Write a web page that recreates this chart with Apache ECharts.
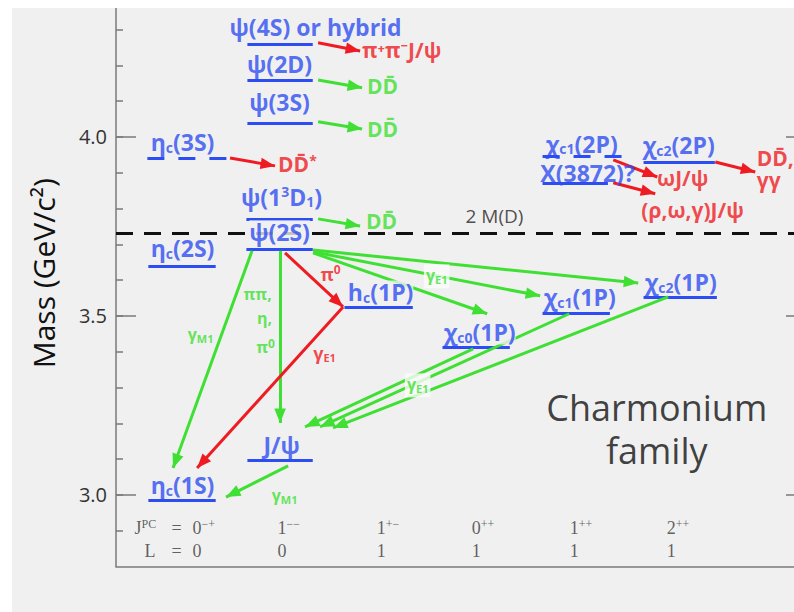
<!DOCTYPE html>
<html><head><meta charset="utf-8">
<script src="https://cdn.jsdelivr.net/npm/echarts@6/dist/echarts.min.js"></script>
<style>
html,body{margin:0;padding:0;background:#ffffff;width:794px;height:612px;overflow:hidden;position:relative}
#c{position:absolute;left:12px;top:8px;width:800px;height:604px;background:#f0f0f0}
</style></head><body><div id="c"></div>
<script>
// ---------------- data ----------------
const massMin = 2.8, massMax = 4.36;
const majorTicks = [3.0, 3.5, 4.0];
const minorTicks = [2.9, 3.0, 3.1, 3.2, 3.3, 3.4, 3.5, 3.6, 3.7, 3.8, 3.9, 4.0, 4.1, 4.2, 4.3];
const colMin = -0.6667, colMax = 6.3;
const twoMD = 3.73;

// energy levels: column-unit span and mass (GeV/c^2)
const levelNames  = ['ηc(1S)','ηc(2S)','ηc(3S)','J/ψ','ψ(2S)','ψ(1³D₁)','ψ(3S)','ψ(2D)','ψ(4S)','hc(1P)','χc0(1P)','χc1(1P)','χc2(1P)','X(3872)','χc1(2P)','χc2(2P)'];
const levelMass   = [2.984, 3.640, 3.941, 3.097, 3.686, 3.771, 4.039, 4.157, 4.260, 3.525, 3.413, 3.508, 3.553, 3.871, 3.947, 3.930];
const levelFrom   = [-0.34, -0.34, -0.35, 0.66, 0.65, 0.65, 0.66, 0.66, 0.66, 1.64, 2.63, 3.64, 4.66, 3.64, 3.64, 4.66];
const levelTo     = [0.34, 0.34, 0.47, 1.32, 1.32, 1.32, 1.32, 1.32, 1.32, 2.33, 3.31, 4.32, 5.40, 4.30, 4.44, 5.38];
const levelDashed = [false,false,true,false,false,false,false,false,false,false,false,false,false,false,true,false];

// transitions / decays: [column, mass] start and arrow tip, colour key
const arrowFrom = [[1.374,4.263],[1.374,4.159],[1.374,4.042],[0.485,3.941],[1.374,3.771],[4.354,3.936],[4.354,3.872],[5.384,3.930],
                   [0.707,3.682],[0.990,3.682],[1.040,3.676],[1.626,3.525],[1.323,3.684],[1.323,3.679],[1.323,3.676],
                   [2.939,3.408],[3.909,3.506],[4.909,3.553],[1.071,3.081]];
const arrowTo   = [[1.798,4.240],[1.818,4.137],[1.818,4.022],[0.939,3.919],[1.798,3.751],[4.798,3.888],[4.778,3.841],[5.788,3.902],
                   [-0.091,3.075],[0.990,3.201],[1.626,3.525],[0.152,3.075],[4.606,3.592],[3.616,3.556],[3.081,3.506],
                   [1.242,3.190],[1.394,3.190],[1.525,3.187],[0.444,2.994]];
const arrowColor = ['r','g','g','r','g','r','r','r','g','g','r','r','g','g','g','g','g','g','g'];

// text labels: rich text, [column, mass], alignment, background
const labelText = [
  '{B|ψ(4S) or hybrid}','{B|ψ(2D)}','{B|ψ(3S)}','{B|η}{Bs|c}{B|(3S)}','{B|ψ(1}{Bp|3}{B|D}{Bs|1}{B|)}','{B|ψ(2S)}',
  '{B|η}{Bs|c}{B|(2S)}','{B|h}{Bs|c}{B|(1P)}','{B|χ}{Bs|c0}{B|(1P)}','{B|χ}{Bs|c1}{B|(1P)}','{B|χ}{Bs|c2}{B|(1P)}',
  '{B|J/ψ}','{B|η}{Bs|c}{B|(1S)}','{B|χ}{Bs|c1}{B|(2P)}','{B|X(3872)?}','{B|χ}{Bs|c2}{B|(2P)}',
  '{R|π⁺π⁻J/ψ}','{G|DD̄}','{G|DD̄}','{R|DD̄}{Rp|*}','{G|DD̄}','{R|ωJ/ψ}','{R|(ρ,ω,γ)J/ψ}','{R|DD̄,}\n{R|γγ}',
  '{g|γ}{gs|M1}','{g|ππ,}','{g|η,}','{g|π}{gp|0}','{r|π}{rp|0}','{r|γ}{rs|E1}','{g|γ}{gs|E1}','{g|γ}{gs|E1}','{g|γ}{gs|M1}',
  '{k|2 M(D)}','{K|Charmonium}\n{K|family}'
];
const labelPos = [
  [1.354,4.3045],[0.99,4.201],[0.99,4.095],[0.01,3.983],[1.01,3.832],[0.99,3.732],
  [0.01,3.687],[2.01,3.564],[3.01,3.4525],[4.02,3.550],[5.04,3.592],
  [1.01,3.137],[0.01,3.025],[4.04,3.980],[4.10,3.899],[5.02,3.975],
  [2.222,4.240],[2.03,4.140],[2.03,4.022],[1.17,3.922],[2.02,3.7626],[5.06,3.885],[5.16,3.793],[5.808,3.908],
  [0.192,3.447],[0.768,3.561],[0.838,3.492],[0.848,3.411],[1.505,3.617],[1.444,3.394],[2.576,3.609],[2.384,3.3045],[1.04,2.997],
  [3.16,3.779],[4.798,3.184]
];
const labelAlign = ['center','center','center','center','center','center','center','center','center','center','center',
  'center','center','center','center','center','center','center','center','center','center','center','center','left',
  'center','center','center','center','center','center','center','center','center','center','center'];
const labelBox = ['','','','','','bg','','bg','bg','','','','','','','',
  '','','','','','','','', '','','','','','','white','white','', '',''];

// quantum-number rows
const jpcText = ['{s|0}{sp|−+}','{s|1}{sp|−−}','{s|1}{sp|+−}','{s|0}{sp|++}','{s|1}{sp|++}','{s|2}{sp|++}'];
const lText   = ['0','0','1','1','1','1'];
const qnCol   = [0.111, 0.970, 1.970, 2.929, 3.919, 4.899];
const jpcMass = 2.905, lMass = 2.841;
const rowHeadText = ['{s|J}{sp|PC}','{s|L}','{s|=}','{s|=}'];
const rowHeadPos  = [[-0.475,2.905],[-0.374,2.841],[-0.101,2.905],[-0.101,2.841]];

// ---------------- styles ----------------
const BLUE = '#2b4df2', GREEN = '#3fe033', RED = '#ee1c22', BG = '#f0f0f0';
const SANS = '"Open Sans", "Noto Sans", sans-serif';
const SERIF = '"Liberation Serif", "DejaVu Serif", serif';
// arrow head whose tip sits at the symbol centre (so the tip lands on the end point)
const ARROW = 'path://M-12,-12M12,12M0,0L4.8,12L-4.8,12Z';
function big(c){return {color:c,fontSize:23,fontWeight:'bold',fontFamily:SANS,lineHeight:24};}
function bigS(c){return {color:c,fontSize:14,fontWeight:'bold',fontFamily:SANS,lineHeight:8,verticalAlign:'bottom'};}
function bigP(c){return {color:c,fontSize:14,fontWeight:'bold',fontFamily:SANS,lineHeight:8,verticalAlign:'top'};}
function prod(c){return {color:c,fontSize:21,fontWeight:'bold',fontFamily:SANS,lineHeight:22};}
function sm(c){return {color:c,fontSize:16,fontWeight:'bold',fontFamily:SANS,lineHeight:20};}
function smS(c){return {color:c,fontSize:11,fontWeight:'bold',fontFamily:SANS,lineHeight:6,verticalAlign:'bottom'};}
function smP(c){return {color:c,fontSize:12,fontWeight:'bold',fontFamily:SANS,lineHeight:6,verticalAlign:'top'};}
const rich = {
  B:big(BLUE), Bs:bigS(BLUE), Bp:bigP(BLUE),
  G:prod(GREEN), R:prod(RED), Rp:{color:RED,fontSize:14,fontWeight:'bold',fontFamily:SANS,lineHeight:8,verticalAlign:'top'},
  g:sm(GREEN), gs:smS(GREEN), gp:smP(GREEN),
  r:{color:RED,fontSize:18,fontWeight:'bold',fontFamily:SANS,lineHeight:20}, rs:smS(RED), rp:smP(RED),
  k:{color:'#222',fontSize:19,fontFamily:SANS,lineHeight:20},
  K:{color:'#111',fontSize:36,fontFamily:SANS,lineHeight:43},
  s:{color:'#3a3a3a',fontSize:18,fontFamily:SERIF,lineHeight:20},
  sp:{color:'#3a3a3a',fontSize:12,fontFamily:SERIF,lineHeight:8,verticalAlign:'top'}
};

// ---------------- build series ----------------
const levelData = levelNames.map((n,i)=>({
  name:n, coords:[[levelFrom[i],levelMass[i]],[levelTo[i],levelMass[i]]],
  lineStyle:{type: levelDashed[i] ? [17,14] : 'solid'}
}));
levelData.push({name:'2M(D)', coords:[[colMin,twoMD],[colMax,twoMD]], lineStyle:{color:'#111',type:[17,11]}});

const arrowData = arrowFrom.map((p,i)=>({
  coords:[p, arrowTo[i]],
  lineStyle:{color: arrowColor[i]==='r' ? RED : GREEN}
}));

const labelData = labelText.map((t,i)=>({
  value: labelPos[i],
  label:{formatter:t, align:labelAlign[i],
    backgroundColor: labelBox[i]==='bg' ? BG : (labelBox[i]==='white' ? '#fbfbfb' : 'transparent'),
    padding: labelBox[i]==='white' ? [1,2,3,2] : 0}
}));
jpcText.forEach((t,i)=>labelData.push({value:[qnCol[i],jpcMass],label:{formatter:t,align:'left'}}));
lText.forEach((t,i)=>labelData.push({value:[qnCol[i],lMass],label:{formatter:'{s|'+t+'}',align:'left'}}));
rowHeadText.forEach((t,i)=>labelData.push({value:rowHeadPos[i],label:{formatter:t,align:'left'}}));

const axisGray = '#7a7a7a';
const chart = echarts.init(document.getElementById('c'), null, {renderer:'svg'});
chart.setOption({
  animation:false,
  backgroundColor:BG,
  grid:{left:104, top:0, right:6, bottom:45.5, containLabel:false},
  xAxis:{type:'value', min:colMin, max:colMax, axisLine:{show:true,onZero:false,lineStyle:{color:axisGray,width:1.5}},
    axisTick:{show:false}, axisLabel:{show:false}, splitLine:{show:false}},
  yAxis:[
    {type:'value', position:'left', min:massMin, max:massMax,
     axisLine:{show:true,onZero:false,lineStyle:{color:axisGray,width:1.5}},
     axisTick:{show:true,inside:true,length:7,customValues:minorTicks,lineStyle:{color:axisGray,width:1.5}},
     axisLabel:{show:true,customValues:majorTicks,formatter:v=>v.toFixed(1),color:'#333',fontSize:20,fontFamily:SANS,margin:9},
     splitLine:{show:false},
     name:'Mass (GeV/c²)', nameLocation:'middle', nameRotate:90, nameGap:58,
     nameTextStyle:{color:'#111',fontSize:30,fontFamily:SANS,padding:[0,0,0,28]}},
    {type:'value', position:'left', min:massMin, max:massMax,
     axisLine:{show:false,onZero:false}, axisLabel:{show:false}, splitLine:{show:false},
     axisTick:{show:true,inside:true,length:20,customValues:majorTicks,lineStyle:{color:axisGray,width:1.5}}},
    {type:'value', position:'right', min:massMin, max:massMax,
     axisLine:{show:true,onZero:false,lineStyle:{color:axisGray,width:1.5}}, axisLabel:{show:false}, splitLine:{show:false},
     axisTick:{show:true,inside:true,length:20,customValues:majorTicks,lineStyle:{color:axisGray,width:1.5}}}
  ],
  series:[
    {type:'lines', coordinateSystem:'cartesian2d', z:2, silent:true,
     lineStyle:{color:BLUE,width:3,opacity:1,curveness:0}, symbol:['none','none'], data:levelData},
    {type:'lines', coordinateSystem:'cartesian2d', z:3, silent:true,
     lineStyle:{width:3,opacity:1,curveness:0}, symbol:['none',ARROW], symbolSize:29, data:arrowData},
    {type:'scatter', z:5, silent:true, symbolSize:1, itemStyle:{color:'rgba(0,0,0,0)'},
     label:{show:true, position:[0,0], verticalAlign:'middle', rich:rich}, labelLayout:{hideOverlap:false},
     data:labelData}
  ]
});
</script></body></html>
